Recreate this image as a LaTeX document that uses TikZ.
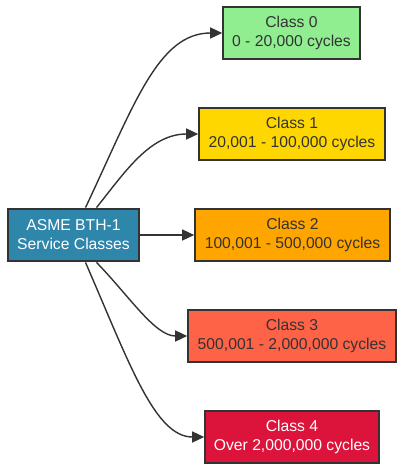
\documentclass[tikz,border=0pt]{standalone}
\usepackage{fontspec}
\setmainfont{Liberation Sans}
\usetikzlibrary{arrows.meta}
\definecolor{ink}{HTML}{333333}
\definecolor{srcfill}{HTML}{2E86AB}
\definecolor{c0}{HTML}{90EE90}
\definecolor{c1}{HTML}{FFD700}
\definecolor{c2}{HTML}{FFA500}
\definecolor{c3}{HTML}{FF6347}
\definecolor{c4}{HTML}{DC143C}
\tikzset{
  box/.style={draw=ink, line width=1.6pt, minimum height=52pt, inner sep=0pt,
    align=center, text=ink, font=\fontsize{15.7}{19}\selectfont},
  srcbox/.style={box, line width=2.8pt, fill=srcfill, text=white},
  link/.style={draw=ink, line width=1.4pt, -{Triangle[length=12pt,width=11pt]}},
}
\begin{document}
\begin{tikzpicture}[x=1pt,y=-1pt]
\useasboundingbox (0,0) rectangle (404,471);
\node[srcbox, minimum width=131pt] (src) at (73.5,235) {ASME BTH-1\\Service Classes};
\node[box, fill=c0, minimum width=137pt] (k0) at (291.5,33) {Class 0\\0 - 20,000 cycles};
\node[box, fill=c1, minimum width=186pt] (k1) at (292,134) {Class 1\\20,001 - 100,000 cycles};
\node[box, fill=c2, minimum width=195pt] (k2) at (292.5,235) {Class 2\\100,001 - 500,000 cycles};
\node[box, fill=c3, minimum width=208pt] (k3) at (292,336) {Class 3\\500,001 - 2,000,000 cycles};
\node[box, fill=c4, minimum width=174pt, text=white] (k4) at (292,437) {Class 4\\Over 2,000,000 cycles};
\draw[link] ([xshift=12pt]src.north) .. controls (134,105) and (158,33) .. (k0.west);
\draw[link] ([xshift=23pt]src.north) .. controls (125,172) and (150,134) .. (k1.west);
\draw[link] (src.east) -- (k2.west);
\draw[link] ([xshift=23pt]src.south) .. controls (130,297) and (155,336) .. (k3.west);
\draw[link] ([xshift=12pt]src.south) .. controls (130,365) and (155,437) .. (k4.west);
\end{tikzpicture}
\end{document}
